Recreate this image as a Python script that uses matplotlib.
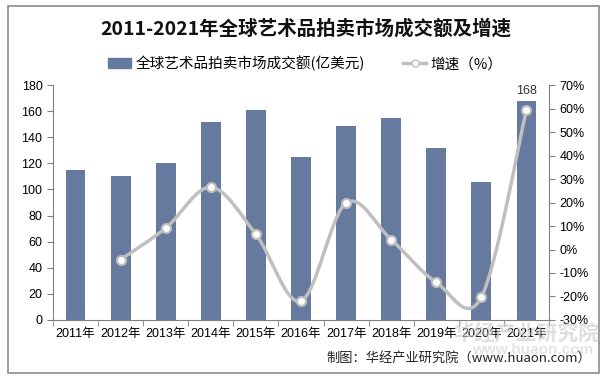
import numpy as np
import matplotlib
matplotlib.use("Agg")
import matplotlib.pyplot as plt
from matplotlib.path import Path
from matplotlib.patches import PathPatch, Rectangle
from matplotlib.lines import Line2D

plt.rcParams['font.family'] = ['Liberation Sans', 'Noto Sans CJK SC', 'DejaVu Sans']

years = ["2011年", "2012年", "2013年", "2014年", "2015年", "2016年",
         "2017年", "2018年", "2019年", "2020年", "2021年"]
sales = [115, 110, 120, 152, 161, 125, 149, 155, 132, 106, 168]
# growth starts in 2012
growth_years = years[1:]
growth = [-4.3, 9.1, 26.5, 6.5, -22.0, 19.8, 4.2, -14.0, -20.3, 59.4]

title = "2011-2021年全球艺术品拍卖市场成交额及增速"
bar_name = "全球艺术品拍卖市场成交额(亿美元)"
line_name = "增速（%）"
source = "制图：华经产业研究院（www.huaon.com）"

bar_color = "#66799F"
line_color = "#BFBFBF"
axis_color = "#808080"


def smooth_path(xs, ys):
    # Catmull-Rom style bezier, like Excel's smoothed line
    xs = np.asarray(xs, float)
    ys = np.asarray(ys, float)
    n = len(xs)
    verts = [(xs[0], ys[0])]
    codes = [Path.MOVETO]
    for i in range(n - 1):
        p0 = (xs[max(i - 1, 0)], ys[max(i - 1, 0)])
        p1 = (xs[i], ys[i])
        p2 = (xs[i + 1], ys[i + 1])
        p3 = (xs[min(i + 2, n - 1)], ys[min(i + 2, n - 1)])
        c1 = (p1[0] + (p2[0] - p0[0]) / 6, p1[1] + (p2[1] - p0[1]) / 6)
        c2 = (p2[0] - (p3[0] - p1[0]) / 6, p2[1] - (p3[1] - p1[1]) / 6)
        verts += [c1, c2, p2]
        codes += [Path.CURVE4] * 3
    return Path(verts, codes)


fig = plt.figure(figsize=(6.11, 3.8), dpi=100)
ax = fig.add_axes([0.0867, 0.158, 0.8118, 0.618])
ax2 = ax.twinx()

x = np.arange(len(years))
ax.bar(x, sales, width=0.44, color=bar_color, zorder=2)
ax.text(x[-1], sales[-1] + 3, str(sales[-1]), ha='center', va='bottom',
        fontsize=9, color="#333333")

ax.set_xlim(-0.5, len(years) - 0.5)
ax.set_ylim(0, 180)
ax.set_yticks(range(0, 181, 20))
ax.set_xticks(x)
ax.set_xticklabels(years, fontsize=9)
ax.set_xticks(np.arange(-0.5, len(years), 1), minor=True)
ax.tick_params(axis='x', which='major', length=0, pad=6)
ax.tick_params(axis='x', which='minor', length=4, color=axis_color, direction='out')
ax.tick_params(axis='y', length=4, color=axis_color, labelsize=9, direction='out')

gx = x[1:]
patch = PathPatch(smooth_path(gx, growth), facecolor='none', edgecolor=line_color,
                  lw=2.5, zorder=3)
ax2.add_patch(patch)
ax2.plot(gx, growth, linestyle='none', marker='o', ms=6.5, mfc='white',
         mec=line_color, mew=1.5, zorder=4)
ax2.set_ylim(-30, 70)
ax2.set_yticks(range(-30, 71, 10))
ax2.set_yticklabels([f"{v}%" for v in range(-30, 71, 10)])
ax2.tick_params(axis='y', length=4, color=axis_color, labelsize=9, direction='out')

for a in (ax, ax2):
    a.spines['top'].set_visible(False)
    for s in ('left', 'right', 'bottom'):
        a.spines[s].set_color(axis_color)
        a.spines[s].set_linewidth(0.8)
ax.spines['right'].set_visible(False)
ax2.spines['left'].set_visible(False)
ax2.spines['bottom'].set_visible(False)
ax2.set_zorder(ax.get_zorder() + 1)

fig.text(0.5, 0.925, title, ha='center', va='center', fontsize=14,
         fontweight='bold', family=['Noto Sans CJK SC'], color="#111111")

handles = [Rectangle((0, 0), 1, 1, color=bar_color),
           Line2D([0], [0], color=line_color, lw=2.5, marker='o', ms=5,
                  mfc='white', mec=line_color)]
fig.legend(handles, [bar_name, line_name], loc='center', bbox_to_anchor=(0.5, 0.833),
           ncol=2, frameon=False, handlelength=1.6, handletextpad=0.3,
           columnspacing=2.6, prop={'family': ['Noto Sans CJK SC'], 'size': 10.5})

# watermark
fig.text(0.862, 0.122, "华经产业研究院", ha='center', va='center', fontsize=15,
         fontweight='bold', color="#C8C8C8", alpha=0.6, family=['Noto Sans CJK SC'])
fig.text(0.872, 0.078, "www.huaon.com", ha='center', va='center', fontsize=11,
         fontweight='bold', color="#C8C8C8", alpha=0.5)

fig.text(0.968, 0.058, source, ha='right', va='center', fontsize=9.5,
         family=['Noto Sans CJK SC'], color="#222222")

fig.patches.append(Rectangle((0.013, 0.018), 0.968, 0.966, transform=fig.transFigure,
                             fill=False, edgecolor="#8C8C8C", lw=1.2))

fig.savefig("out.png", dpi=100)
